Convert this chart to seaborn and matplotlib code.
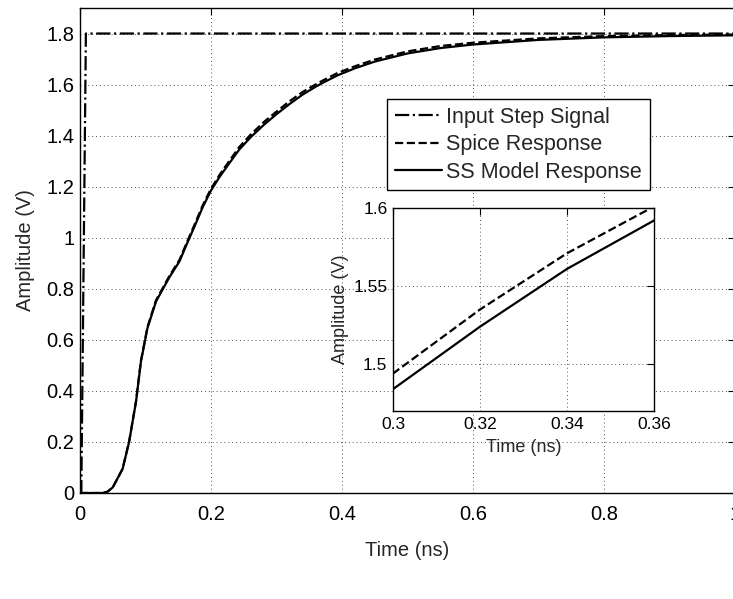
import numpy as np
import pandas as pd
import seaborn as sns
import matplotlib.pyplot as plt
from matplotlib.ticker import FormatStrFormatter

# values (time in ns, amplitude in V)
step_t = [0.0, 0.002, 0.009, 1.0]
step_v = [0.0, 0.0, 1.8, 1.8]

resp_t = [0.0, 0.035, 0.042, 0.05, 0.065, 0.075, 0.0855, 0.093, 0.103, 0.116,
          0.136, 0.152, 0.163, 0.175, 0.187, 0.2, 0.213, 0.228, 0.243, 0.261,
          0.281, 0.3, 0.32, 0.34, 0.36, 0.37, 0.393, 0.42, 0.45, 0.5,
          0.55, 0.6, 0.7, 0.8, 0.9, 1.0]
ss_v = [0.0, 0.0, 0.005, 0.022, 0.094, 0.2, 0.357, 0.514, 0.646, 0.75,
        0.843, 0.908, 0.975, 1.045, 1.118, 1.185, 1.238, 1.292, 1.345, 1.395,
        1.443, 1.484, 1.524, 1.561, 1.592, 1.606, 1.636, 1.664, 1.69, 1.722,
        1.743, 1.757, 1.775, 1.785, 1.790, 1.793]
spice_v = [0.0, 0.0, 0.005, 0.022, 0.095, 0.202, 0.36, 0.518, 0.65, 0.755,
           0.848, 0.914, 0.981, 1.052, 1.125, 1.192, 1.246, 1.301, 1.355, 1.405,
           1.454, 1.494, 1.535, 1.571, 1.601, 1.615, 1.645, 1.672, 1.698, 1.730,
           1.751, 1.764, 1.781, 1.790, 1.794, 1.796]

labels = ['Input Step Signal', 'Spice Response', 'SS Model Response']

sns.set_style('white')
plt.rcParams['font.family'] = ['Liberation Sans', 'DejaVu Sans']

df_step = pd.DataFrame({'t': step_t, 'v': step_v})
df_resp = pd.DataFrame({'t': resp_t, 'ss': ss_v, 'spice': spice_v})

fig = plt.figure(figsize=(7.33, 5.99), dpi=100)
ax = fig.add_axes([80 / 733, 106 / 599, 655 / 733, 485 / 599])

lw = 1.6
sns.lineplot(data=df_step, x='t', y='v', ax=ax, color='black', lw=lw,
             linestyle='-.', estimator=None, sort=False, label=labels[0])
sns.lineplot(data=df_resp, x='t', y='spice', ax=ax, color='black', lw=lw,
             linestyle='--', estimator=None, sort=False, label=labels[1])
sns.lineplot(data=df_resp, x='t', y='ss', ax=ax, color='black', lw=lw,
             linestyle='-', estimator=None, sort=False, label=labels[2])


def matlab_axes(a, fs):
    for s in a.spines.values():
        s.set_visible(True)
        s.set_color('black')
        s.set_linewidth(1.0)
    a.grid(True, color='#555555', linestyle=(0, (1, 3)), linewidth=0.7)
    a.tick_params(direction='in', top=True, right=True, length=5,
                  width=0.8, labelsize=fs, colors='black', pad=4)


ax.set_xlim(0, 1)
ax.set_ylim(0, 1.9)
ax.set_xticks(np.arange(0, 1.01, 0.2))
ax.set_yticks(np.arange(0, 1.81, 0.2))
ax.xaxis.set_major_formatter(FormatStrFormatter('%g'))
ax.yaxis.set_major_formatter(FormatStrFormatter('%g'))
matlab_axes(ax, 14.5)
ax.tick_params(axis='x', pad=9)
ax.set_xlabel('Time (ns)', fontsize=14.5, labelpad=12)
ax.set_ylabel('Amplitude (V)', fontsize=14.5, labelpad=8)

leg = ax.legend(loc='upper left', bbox_to_anchor=(0.469, 0.812),
                borderaxespad=0, fontsize=15.5, fancybox=False, framealpha=1,
                edgecolor='black', handlelength=2.2, handletextpad=0.2,
                labelspacing=0.3, borderpad=0.35)
leg.get_frame().set_linewidth(1.0)

# inset zoom
ins = fig.add_axes([393 / 733, 188 / 599, 261 / 733, 203 / 599])
ins.set_facecolor('white')
sns.lineplot(data=df_resp, x='t', y='spice', ax=ins, color='black', lw=lw,
             linestyle='--', estimator=None, sort=False)
sns.lineplot(data=df_resp, x='t', y='ss', ax=ins, color='black', lw=lw,
             linestyle='-', estimator=None, sort=False)
ins.set_xlim(0.3, 0.36)
ins.set_ylim(1.47, 1.6)
ins.set_xticks([0.3, 0.32, 0.34, 0.36])
ins.set_yticks([1.5, 1.55, 1.6])
ins.xaxis.set_major_formatter(FormatStrFormatter('%g'))
ins.yaxis.set_major_formatter(FormatStrFormatter('%g'))
matlab_axes(ins, 12.5)
ins.set_xlabel('Time (ns)', fontsize=13, labelpad=5)
ins.set_ylabel('Amplitude (V)', fontsize=13, labelpad=3)

fig.savefig('out.png', dpi=100)
